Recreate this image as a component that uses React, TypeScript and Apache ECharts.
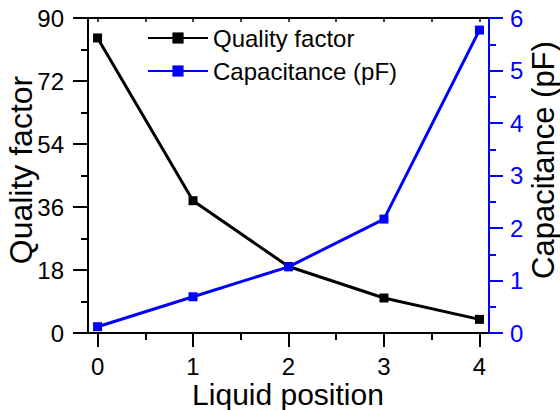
import React, { useEffect, useRef } from "react";
import * as echarts from "echarts";

const positions = [0, 1, 2, 3, 4];
const qualityFactor = [84.3, 37.8, 19.0, 10.0, 3.9];
const capacitance = [0.12, 0.69, 1.26, 2.17, 5.77];
const majorTicksX = [0, 1, 2, 3, 4];
const minorTicksX = [0.5, 1.5, 2.5, 3.5];
const topTicksX = [0, 0.5, 1, 1.5, 2, 2.5, 3, 3.5, 4];

const FONT = "Liberation Sans, Arial, Helvetica, sans-serif";
const BLUE = "#0000ff";

export default function App() {
  const ref = useRef<HTMLDivElement>(null);
  useEffect(() => {
    if (!ref.current) return;
    const chart = echarts.init(ref.current, undefined, { renderer: "svg" });
    const xBase = {
      type: "value",
      min: -0.1,
      max: 4.1,
      splitLine: { show: false },
    };
    chart.setOption({
      animation: false,
      textStyle: { fontFamily: FONT },
      grid: { left: 88, right: 71, top: 18, bottom: 77, containLabel: false },
      legend: {
        orient: "vertical",
        left: 142,
        top: 21,
        itemWidth: 60,
        itemHeight: 14,
        itemGap: 9,
        textStyle: { fontSize: 24, color: "#000", fontFamily: FONT, lineHeight: 24 },
        data: ["Quality factor", "Capacitance (pF)"],
      },
      xAxis: [
        {
          ...xBase,
          position: "bottom",
          axisLine: { show: true, onZero: false, lineStyle: { color: "#000", width: 2 } },
          axisTick: {
            show: true,
            inside: false,
            length: 14,
            customValues: majorTicksX,
            lineStyle: { color: "#000", width: 2 },
          },
          axisLabel: {
            show: true,
            customValues: majorTicksX,
            fontSize: 24,
            lineHeight: 16,
            color: "#000",
            margin: 25,
            fontFamily: FONT,
          },
        },
        {
          ...xBase,
          position: "top",
          axisLine: { show: true, onZero: false, lineStyle: { color: "#000", width: 2 } },
          axisTick: {
            show: true,
            inside: true,
            length: 4,
            customValues: topTicksX,
            lineStyle: { color: "#000", width: 1.5 },
          },
          axisLabel: { show: false },
        },
        {
          ...xBase,
          position: "bottom",
          axisLine: { show: false, onZero: false },
          axisTick: {
            show: true,
            inside: false,
            length: 7,
            customValues: minorTicksX,
            lineStyle: { color: "#000", width: 2 },
          },
          axisLabel: { show: false },
        },
      ],
      yAxis: [
        {
          type: "value",
          min: 0,
          max: 90,
          interval: 18,
          position: "left",
          splitLine: { show: false },
          axisLine: { show: true, onZero: false, lineStyle: { color: "#000", width: 2 } },
          axisTick: { show: true, inside: false, length: 15, lineStyle: { color: "#000", width: 2 } },
          minorTick: { show: true, splitNumber: 2, length: 7, lineStyle: { color: "#000", width: 2 } },
          axisLabel: { fontSize: 24, color: "#000", margin: 24, fontFamily: FONT },
        },
        {
          type: "value",
          min: 0,
          max: 6,
          interval: 1,
          position: "right",
          splitLine: { show: false },
          axisLine: { show: true, onZero: false, lineStyle: { color: BLUE, width: 2 } },
          axisTick: { show: true, inside: false, length: 14, lineStyle: { color: BLUE, width: 2 } },
          minorTick: { show: true, splitNumber: 2, length: 7, lineStyle: { color: BLUE, width: 2 } },
          axisLabel: { fontSize: 24, color: BLUE, margin: 21, fontFamily: FONT },
        },
      ],
      graphic: [
        {
          type: "text",
          x: 21,
          y: 170,
          rotation: Math.PI / 2,
          style: {
            text: "Quality factor",
            fontSize: 32,
            fontFamily: FONT,
            fill: "#000",
            textAlign: "center",
            textVerticalAlign: "middle",
          },
        },
        {
          type: "text",
          x: 543,
          y: 160,
          rotation: Math.PI / 2,
          style: {
            text: "Capacitance (pF)",
            fontSize: 31,
            fontFamily: FONT,
            fill: "#000",
            textAlign: "center",
            textVerticalAlign: "middle",
          },
        },
        {
          type: "text",
          x: 288,
          y: 394,
          style: {
            text: "Liquid position",
            fontSize: 30,
            fontFamily: FONT,
            fill: "#000",
            textAlign: "center",
            textVerticalAlign: "middle",
          },
        },
      ],
      series: [
        {
          name: "Quality factor",
          type: "line",
          xAxisIndex: 0,
          yAxisIndex: 0,
          data: positions.map((p, i) => [p, qualityFactor[i]]),
          symbol: "rect",
          symbolSize: 9,
          itemStyle: { color: "#000" },
          lineStyle: { color: "#000", width: 3 },
        },
        {
          name: "Capacitance (pF)",
          type: "line",
          xAxisIndex: 0,
          yAxisIndex: 1,
          data: positions.map((p, i) => [p, capacitance[i]]),
          symbol: "rect",
          symbolSize: 9,
          itemStyle: { color: BLUE },
          lineStyle: { color: BLUE, width: 3 },
        },
      ],
    });
    return () => chart.dispose();
  }, []);
  return <div ref={ref} style={{ width: 560, height: 410, position: "absolute", left: 0, top: 0 }} />;
}
